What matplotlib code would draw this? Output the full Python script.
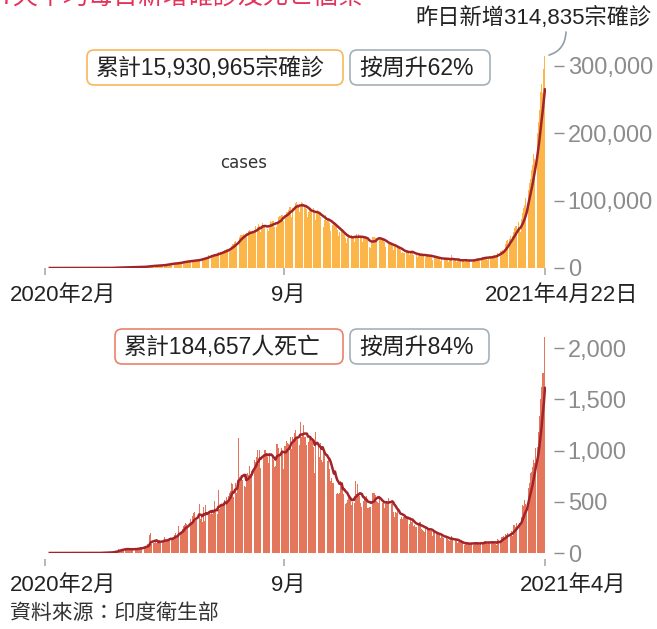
import numpy as np
import pandas as pd
import matplotlib
matplotlib.use("Agg")
import matplotlib.pyplot as plt
from matplotlib import font_manager
from matplotlib.patches import FancyBboxPatch
from matplotlib.transforms import ScaledTranslation
from matplotlib.ticker import FuncFormatter

# daily new cases in India (thousands), from 2020-01-30, one row per week
cases_k = [
    0, 0, 0, 0, 0, 0, 0,
    0, 0, 0, 0, 0, 0, 0,
    0, 0, 0, 0, 0, 0, 0,
    0, 0, 0, 0, 0, 0, 0,
    0, 0, 0, 0, 0, 0, 0.02,
    0.01, 0.0, 0.01, 0.0, 0.01, 0.01, 0.01,
    0.01, 0.01, 0.02, 0.02, 0.01, 0.02, 0.02,
    0.03, 0.05, 0.08, 0.08, 0.1, 0.08, 0.09,
    0.08, 0.15, 0.14, 0.1, 0.23, 0.2, 0.6,
    0.5, 0.6, 0.6, 0.5, 0.7, 0.6, 0.6,
    0.8, 0.9, 0.9, 0.8, 1.2, 1.0, 0.9,
    1.0, 1.1, 1.0, 1.3, 1.5, 1.3, 1.4,
    1.7, 1.8, 1.6, 1.9, 1.5, 1.6, 1.8,
    1.8, 2.4, 2.6, 2.5, 3.6, 2.9, 2.9,
    3.3, 3.3, 3.3, 4.2, 3.6, 3.6, 3.7,
    3.9, 4.0, 4.8, 5.0, 4.6, 5.6, 5.6,
    6.1, 6.6, 6.7, 7.0, 6.5, 6.4, 6.4,
    7.2, 7.9, 8.4, 8.8, 7.8, 8.2, 9.6,
    9.8, 9.9, 9.9, 10.4, 9.9, 9.9, 10.9,
    11.1, 11.3, 11.9, 11.5, 10.7, 10.2, 12.9,
    13.6, 14.0, 14.5, 15.4, 13.5, 15.0, 16.0,
    17.0, 18.6, 18.5, 19.9, 19.5, 18.6, 19.4,
    19.1, 20.9, 22.7, 24.0, 23.9, 22.3, 22.8,
    24.9, 26.5, 27.1, 28.6, 28.7, 28.5, 29.4,
    32.7, 34.9, 34.9, 38.9, 40.4, 37.1, 37.7,
    45.7, 49.3, 48.9, 48.7, 50.0, 47.7, 48.5,
    52.1, 55.1, 57.1, 54.7, 52.0, 52.1, 52.5,
    56.3, 62.5, 61.5, 65.0, 62.1, 53.6, 60.9,
    66.9, 64.6, 64.1, 63.5, 57.9, 55.1, 64.5,
    69.7, 68.9, 69.9, 69.2, 61.4, 60.9, 67.2,
    75.8, 77.3, 76.5, 78.8, 78.5, 69.9, 78.4,
    83.9, 83.3, 86.4, 90.6, 90.8, 75.8, 89.7,
    95.7, 96.6, 97.6, 94.4, 92.1, 83.8, 90.1,
    97.9, 96.4, 93.3, 92.6, 86.9, 75.1, 83.3,
    86.5, 86.1, 85.4, 88.6, 82.2, 70.6, 80.5,
    86.8, 81.5, 79.5, 75.8, 74.4, 61.3, 72.0,
    78.5, 70.5, 73.3, 74.4, 66.7, 55.3, 63.5,
    67.7, 63.4, 62.2, 61.9, 55.7, 46.8, 54.0,
    55.8, 54.4, 50.1, 50.1, 45.1, 36.5, 43.9,
    49.9, 48.6, 48.3, 46.9, 46.0, 38.3, 46.3,
    50.2, 47.6, 50.4, 45.7, 45.9, 38.1, 44.3,
    47.9, 44.9, 44.7, 41.1, 30.5, 29.2, 38.6,
    45.6, 46.2, 46.2, 45.2, 44.1, 37.9, 44.4,
    44.5, 43.1, 41.3, 41.8, 38.8, 31.1, 36.6,
    35.6, 36.6, 36.7, 36.0, 32.9, 26.6, 32.1,
    31.5, 29.4, 30.0, 30.3, 27.1, 22.1, 24.0,
    22.9, 22.9, 25.2, 26.6, 24.3, 19.6, 23.9,
    24.7, 23.1, 18.7, 22.3, 18.7, 16.4, 20.5,
    21.8, 20.0, 19.1, 19.0, 18.2, 16.4, 18.1,
    20.3, 18.1, 18.2, 18.6, 16.3, 12.6, 15.9,
    16.9, 15.6, 15.2, 15.1, 13.8, 10.1, 13.8,
    15.2, 14.5, 14.3, 14.8, 13.2, 9.1, 12.7,
    11.7, 18.9, 13.1, 13.0, 11.4, 8.6, 11.0,
    12.9, 12.4, 12.0, 11.7, 11.8, 9.1, 11.1,
    12.9, 9.3, 12.1, 12.2, 11.6, 9.1, 11.6,
    12.9, 13.2, 13.9, 14.3, 14.2, 10.6, 13.7,
    16.7, 16.6, 16.5, 16.8, 15.5, 12.3, 14.9,
    17.4, 16.8, 18.3, 18.7, 18.6, 15.4, 17.9,
    22.9, 23.3, 24.9, 25.3, 26.3, 24.5, 28.9,
    35.9, 39.7, 40.9, 43.8, 46.9, 40.7, 47.3,
    53.5, 59.1, 62.3, 62.7, 68.0, 56.2, 53.5,
    72.3, 81.5, 89.1, 93.2, 103.6, 96.9, 115.7,
    126.8, 131.9, 145.4, 152.9, 168.9, 161.7, 184.4,
    200.7, 217.4, 234.7, 261.5, 273.8, 259.2, 295.0,
    314.8,
]

# daily new deaths in India, from 2020-01-30, one row per week
deaths = [
    0, 0, 0, 0, 0, 0, 0,
    0, 0, 0, 0, 0, 0, 0,
    0, 0, 0, 0, 0, 0, 0,
    0, 0, 0, 0, 0, 0, 0,
    0, 0, 0, 0, 0, 0, 0,
    0, 0, 0, 0, 0, 0, 0,
    1, 0, 1, 0, 0, 1, 0,
    1, 1, 2, 3, 2, 1, 4,
    4, 3, 5, 6, 5, 6, 12,
    15, 12, 24, 19, 36, 26, 34,
    40, 35, 40, 35, 51, 30, 38,
    32, 38, 36, 33, 48, 42, 35,
    43, 45, 53, 54, 46, 59, 62,
    71, 73, 86, 72, 175, 195, 92,
    99, 94, 111, 97, 128, 120, 122,
    100, 100, 122, 157, 121, 134, 132,
    137, 148, 142, 147, 154, 175, 194,
    170, 175, 265, 193, 204, 230, 260,
    273, 294, 287, 261, 266, 331, 279,
    357, 386, 396, 311, 325, 380, 480,
    336, 375, 306, 445, 312, 465, 418,
    407, 413, 384, 410, 380, 418, 507,
    434, 379, 613, 425, 467, 465, 482,
    487, 519, 551, 500, 553, 582, 606,
    687, 671, 543, 681, 587, 648, 1120,
    740, 705, 757, 708, 654, 647, 768,
    779, 764, 853, 771, 803, 857, 904,
    886, 933, 1007, 871, 1007, 834, 1007,
    942, 1006, 1007, 944, 941, 876, 977,
    984, 945, 912, 836, 848, 1059, 1059,
    1021, 947, 1023, 971, 819, 1045, 1043,
    1096, 1069, 1065, 1133, 1016, 1133, 1115,
    1172, 1201, 1114, 1136, 1054, 1283, 1132,
    1174, 1247, 1133, 1130, 1053, 1085, 1129,
    1141, 1089, 1124, 1039, 776, 1179, 1181,
    1069, 940, 1069, 903, 884, 986, 971,
    963, 895, 918, 816, 706, 730, 680,
    680, 1033, 579, 587, 579, 587, 706,
    680, 650, 578, 480, 488, 517, 543,
    563, 551, 470, 496, 490, 704, 577,
    670, 577, 559, 490, 447, 512, 550,
    547, 554, 435, 440, 447, 449, 584,
    585, 590, 564, 511, 501, 489, 524,
    524, 492, 496, 443, 482, 512, 482,
    540, 524, 482, 511, 402, 355, 402,
    393, 439, 391, 336, 354, 333, 355,
    347, 342, 347, 341, 286, 333, 301,
    336, 264, 272, 252, 251, 286, 299,
    301, 237, 224, 217, 201, 264, 252,
    234, 228, 216, 213, 161, 202, 201,
    194, 191, 175, 181, 145, 162, 152,
    151, 163, 162, 137, 127, 117, 123,
    163, 128, 151, 127, 120, 94, 107,
    108, 107, 103, 94, 79, 84, 94,
    95, 96, 95, 98, 90, 81, 102,
    104, 95, 86, 101, 78, 101, 103,
    106, 113, 113, 97, 83, 106, 98,
    117, 113, 108, 97, 88, 77, 134,
    126, 117, 160, 158, 161, 131, 188,
    172, 199, 188, 197, 212, 161, 275,
    271, 257, 291, 312, 291, 271, 354,
    469, 459, 513, 478, 446, 630, 684,
    780, 794, 839, 904, 879, 1027, 1038,
    1185, 1341, 1501, 1619, 1761, 1759, 2104,
]

case_ticks = [0, 100000, 200000, 300000]
death_ticks = [0, 500, 1000, 1500, 2000]
case_xticks = ["2020-02-01", "2020-09-01", "2021-04-22"]
case_xlabels = ["2020年2月", "9月", "2021年4月22日"]
death_xticks = ["2020-02-01", "2020-09-01", "2021-04-21"]
death_xlabels = ["2020年2月", "9月", "2021年4月"]

title = "7天平均每日新增確診及死亡個案"
latest_note = "昨日新增314,835宗確診"
case_total = "累計15,930,965宗確診"
case_week = "按周升62%"
death_total = "累計184,657人死亡"
death_week = "按周升84%"
source = "資料來源：印度衛生部"

# colours
case_color = "#fbb548"
death_color = "#e4775b"
line_color = "#a2242a"
grey = "#8c8c8c"
text_color = "#222222"

installed = {f.name for f in font_manager.fontManager.ttflist}
narrow = "Liberation Sans Narrow" if "Liberation Sans Narrow" in installed else "Liberation Sans"
cjk = "Noto Sans CJK TC"
mixed = [narrow, cjk, "DejaVu Sans"]
plt.rcParams["font.family"] = mixed

W, H = 657, 629
fig = plt.figure(figsize=(W / 100, H / 100), dpi=100)


def fx(px):
    return px / W


def fy(py):
    return 1 - py / H


def shift_labels(ax, offsets):
    for lab, dx in zip(ax.get_xticklabels(), offsets):
        lab.set_transform(lab.get_transform() + ScaledTranslation(dx / 100, 0, fig.dpi_scale_trans))


def style_axis(ax, ticks, outward_bottom):
    for s in ax.spines.values():
        s.set_visible(False)
    ax.spines["right"].set_position(("outward", 6))
    ax.spines["bottom"].set_position(("outward", outward_bottom))
    ax.yaxis.tick_right()
    ax.set_yticks(ticks)
    ax.yaxis.set_major_formatter(FuncFormatter(lambda v, p: f"{v:,.0f}"))
    ax.tick_params(axis="y", length=7, width=1, color=grey, labelcolor=grey,
                   labelsize=17, pad=3)
    ax.tick_params(axis="x", length=5, width=1.2, color="#aaaaaa", labelcolor=text_color,
                   labelsize=16, pad=7)


def label_box(x0, y0, x1, y1, text, edge):
    box = FancyBboxPatch((fx(x0), fy(y1)), fx(x1) - fx(x0), fy(y0) - fy(y1),
                         boxstyle="round,pad=0,rounding_size=0.011",
                         transform=fig.transFigure, fc="white", ec=edge, lw=1.2)
    fig.add_artist(box)
    fig.text(fx(x0 + 9), fy((y0 + y1) / 2 + 1), text, ha="left", va="center",
             fontsize=16.5, color=text_color, family=mixed)


# cases panel
cases = np.array(cases_k) * 1000
case_dates = pd.date_range("2020-01-30", periods=len(cases), freq="D")
case_avg = pd.Series(cases).rolling(7).mean()

ax1 = fig.add_axes([fx(42.5), fy(268), fx(503), 228 / H])
ax1.bar(case_dates, cases, width=0.85, color=case_color, linewidth=0)
ax1.plot(case_dates, case_avg, color=line_color, lw=1.8)
ax1.set_xlim(case_dates[0] - pd.Timedelta(hours=12), case_dates[-1] + pd.Timedelta(hours=12))
ax1.set_ylim(0, 338600)
style_axis(ax1, case_ticks, 0)
ax1.set_xticks(pd.to_datetime(case_xticks))
ax1.set_xticklabels(case_xlabels)
shift_labels(ax1, [18, 4, 17])
ax1.text(0.4, 0.46, "cases", transform=ax1.transAxes, ha="center", va="center",
         fontsize=12, color="#333333", family="DejaVu Sans")
ax1.annotate("", xy=(case_dates[-1], cases[-1]), xycoords="data",
             xytext=(fx(566), fy(32)), textcoords="figure fraction",
             arrowprops=dict(arrowstyle="-", color="#8f9ea8", lw=1.2,
                             connectionstyle="arc3,rad=-0.4", shrinkA=0, shrinkB=3))

# deaths panel
death_vals = np.array(deaths)
death_dates = pd.date_range("2020-01-30", periods=len(death_vals), freq="D")
death_avg = pd.Series(death_vals).rolling(7).mean()

ax2 = fig.add_axes([fx(42.5), fy(553), fx(503), 218 / H])
ax2.bar(death_dates, death_vals, width=0.85, color=death_color, linewidth=0)
ax2.plot(death_dates, death_avg, color=line_color, lw=1.8)
ax2.set_xlim(death_dates[0] - pd.Timedelta(hours=12), death_dates[-1] + pd.Timedelta(hours=12))
ax2.set_ylim(0, 2127)
style_axis(ax2, death_ticks, 4)
ax2.set_xticks(pd.to_datetime(death_xticks))
ax2.set_xticklabels(death_xlabels)
shift_labels(ax2, [18, 4, 28])

# texts and boxes (title is cut by the top edge, as in the original)
fig.text(0, fy(-3), title, ha="left", va="center", fontsize=18, color="#e5325a", family=[cjk])
fig.text(fx(652), fy(18), latest_note, ha="right", va="center", fontsize=16,
         color=text_color, family=mixed)
label_box(87, 50, 343, 85, case_total, "#f7b85a")
label_box(350, 50, 490, 85, case_week, "#a3b0b9")
label_box(115, 329, 343, 364, death_total, "#e8836a")
label_box(350, 329, 489, 364, death_week, "#a3b0b9")
fig.text(fx(10), fy(613), source, ha="left", va="center", fontsize=15,
         color="#333333", family=mixed)

fig.savefig("out.png", dpi=100)
